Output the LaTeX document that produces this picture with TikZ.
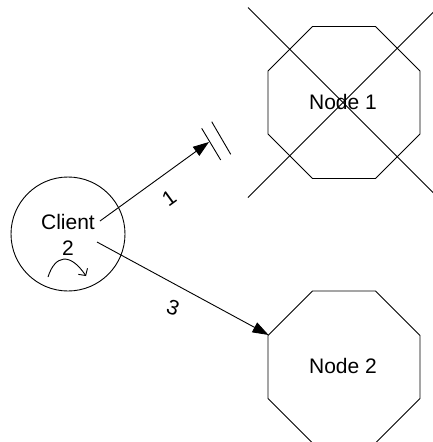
\documentclass[tikz,border=0pt]{standalone}
\usepackage{fontspec}
\setmainfont{Liberation Sans}
\usetikzlibrary{shapes.geometric,arrows.meta}
\begin{document}
\begin{tikzpicture}[x=1pt,y=1pt,
  every node/.style={font=\fontsize{21}{26}\selectfont},
  octa/.style={draw,regular polygon,regular polygon sides=8,minimum size=164.5pt,inner sep=0pt,outer sep=0pt,line width=0.9pt},
  conn/.style={line width=0.9pt,-{Triangle[length=16pt,width=11pt]}},
  thin/.style={line width=0.9pt},
  lbl/.style={inner sep=0pt}]
\useasboundingbox (0,0) rectangle (433,-442);
\begin{scope}
\clip (0,0) rectangle (433,-442);
% Client
\node[draw,circle,minimum size=114pt,inner sep=0pt,line width=0.9pt] (client) at (68,-234) {};
\node[align=center,inner sep=0pt] (ctext) at (68,-235) {Client\\2};
% Node 1
\node[octa] (n1) at (344,-102.5) {};
\node[lbl] (n1t) at (343,-102) {Node 1};
\coordinate (x1a) at (248,-7.5);
\coordinate (x1b) at (438,-197.5);
\coordinate (x2a) at (438,-7.5);
\coordinate (x2b) at (248,-197.5);
\draw[thin] (x1a) -- (x1b);
\draw[thin] (x2a) -- (x2b);
% Node 2
\node[octa] (n2) at (344,-367) {};
\node[lbl] (n2t) at (343,-366) {Node 2};
% connectors
\coordinate (s1) at (100,-221);
\coordinate (t1) at (209,-142);
\coordinate (s3) at (97,-242);
\draw[conn] (s1) -- (t1);
\draw[conn] (s3) -- (n2.157.5);
% break marks
\coordinate (b1a) at (201.7,-128.3);
\coordinate (b1b) at (220.7,-160);
\coordinate (b2a) at (211.7,-121.7);
\coordinate (b2b) at (230.7,-154.3);
\draw[thin] (b1a) -- (b1b);
\draw[thin] (b2a) -- (b2b);
% labels
\node[lbl,rotate=36] (l1) at (169,-198) {1};
\node[lbl,rotate=-20] (l3) at (173,-308) {3};
% curved arrow
\coordinate (ca) at (48,-277);
\coordinate (cb) at (86,-276);
\draw[thin,-{Straight Barb[length=5pt,width=11pt]}] (ca) .. controls (55,-255) and (70,-252) .. (cb);
\end{scope}
\end{tikzpicture}
\end{document}
